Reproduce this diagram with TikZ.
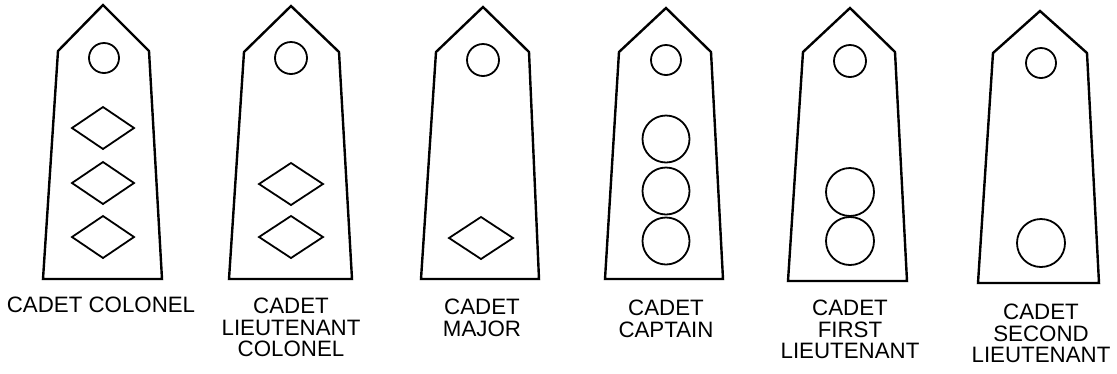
\documentclass[tikz,border=0pt]{standalone}
\usepackage{fontspec}
\setmainfont{Liberation Sans}
\begin{document}
\begin{tikzpicture}[x=1pt,y=-1pt,
  board/.style={line width=2.4pt, line join=miter},
  badge/.style={line width=1.8pt},
  lbl/.style={font=\fontsize{22.3}{21.5}\selectfont, align=center, anchor=north, inner sep=0pt}]
\useasboundingbox (0,0) rectangle (1117,373);
% Board 1: Cadet Colonel
\draw[board] (43,279) -- (58,51) -- (103,5) -- (149,51) -- (162,279) -- cycle;
\draw[badge] (104,58) circle[radius=15];
\foreach \y in {128,183,237}
  \draw[badge] (103,\y) ++(-31,0) -- ++(31,-21) -- ++(31,21) -- ++(-31,21) -- cycle;
\node[lbl] (l1) at (101,297) {CADET COLONEL};
% Board 2: Cadet Lieutenant Colonel
\draw[board] (229,279) -- (244,52) -- (291,6) -- (339,52) -- (352,279) -- cycle;
\draw[badge] (291,58) circle[radius=16];
\foreach \y in {184,237}
  \draw[badge] (291,\y) ++(-32,0) -- ++(32,-21) -- ++(32,21) -- ++(-32,21) -- cycle;
\node[lbl] (l2) at (291,298) {CADET\\LIEUTENANT\\COLONEL};
% Board 3: Cadet Major
\draw[board] (421,279) -- (436,52) -- (483,7) -- (529,52) -- (539,279) -- cycle;
\draw[badge] (483,60) circle[radius=16];
\draw[badge] (481,238) ++(-32,0) -- ++(32,-21) -- ++(32,21) -- ++(-32,21) -- cycle;
\node[lbl] (l3) at (482,299) {CADET\\MAJOR};
% Board 4: Cadet Captain
\draw[board] (605,279) -- (619,52) -- (666,8) -- (711,52) -- (723,279) -- cycle;
\draw[badge] (666,60) circle[radius=15];
\foreach \y in {139,191,241}
  \draw[badge] (666,\y) circle[radius=23.5];
\node[lbl] (l4) at (666,300) {CADET\\CAPTAIN};
% Board 5: Cadet First Lieutenant
\draw[board] (788,281) -- (803,52) -- (850,8) -- (895,52) -- (907,281) -- cycle;
\draw[badge] (850,61) circle[radius=16];
\foreach \y in {192,241}
  \draw[badge] (850,\y) circle[radius=24];
\node[lbl] (l5) at (850,300) {CADET\\FIRST\\LIEUTENANT};
% Board 6: Cadet Second Lieutenant
\draw[board] (978,283) -- (993,53) -- (1040,11) -- (1087,53) -- (1099,283) -- cycle;
\draw[badge] (1041,63) circle[radius=15];
\draw[badge] (1041,243) circle[radius=24];
\node[lbl] (l6) at (1041,304) {CADET\\SECOND\\LIEUTENANT};
\end{tikzpicture}
\end{document}
